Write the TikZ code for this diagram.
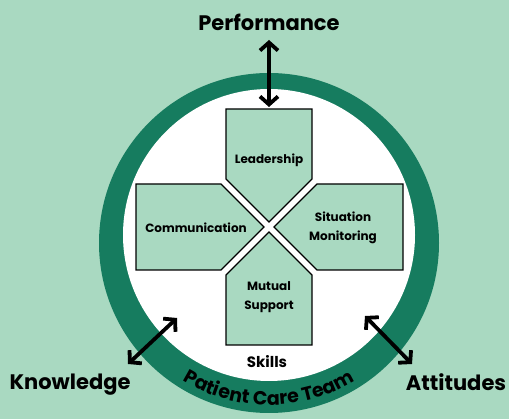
\documentclass[tikz,border=0pt]{standalone}
\usepackage{fontspec}
\setmainfont{Poppins}
\usepackage{tikz}
\usetikzlibrary{arrows.meta}
\usetikzlibrary{decorations.text}

\definecolor{mint}{HTML}{A9D9C1}
\definecolor{pine}{HTML}{167C5F}

\begin{document}
\begin{tikzpicture}[x=1pt,y=-1pt,
    box/.style={draw=black,fill=mint,line width=1.4pt},
    lbl/.style={font=\bfseries\fontsize{12}{19}\selectfont,align=center,inner sep=0},
    big/.style={font=\bfseries\fontsize{21}{24}\selectfont,inner sep=0,anchor=base},
    twoway/.style={{Straight Barb[length=8pt,width=18pt]}-{Straight Barb[length=8pt,width=18pt]},line width=3.8pt}]

    \useasboundingbox (0,0) rectangle (509,419);
    \fill[mint] (0,0) rectangle (509,419);
    \fill[pine] (269,243) circle[radius=170];
    \fill[white] (269,235) circle[radius=146];

    \draw[box] (226,109) -- (312,109) -- (312,179) -- (269,222) -- (226,179) -- cycle;
    \draw[box] (136,184) -- (221,184) -- (264,227) -- (221,270) -- (136,270) -- cycle;
    \draw[box] (403,184) -- (317,184) -- (274,227) -- (317,270) -- (403,270) -- cycle;
    \draw[box] (226,345) -- (312,345) -- (312,275) -- (269,232) -- (226,275) -- cycle;

    \node[lbl,anchor=base] (lead) at (269,164) {Leadership};
    \node[lbl,anchor=base] (comm) at (196,233) {Communication};
    \node[lbl] (sit) at (343,228) {Situation\\Monitoring};
    \node[lbl] (mut) at (269,297) {Mutual\\Support};
    \node[font=\bfseries\fontsize{15}{18}\selectfont,inner sep=0,anchor=base] (skills) at (267,368) {Skills};

    \node[big] (perf) at (269,31) {Performance};
    \node[big] (know) at (70,390) {Knowledge};
    \node[big] (att) at (456,391) {Attitudes};

    \path[decorate,decoration={text along path,text align=center,
        text={|\bfseries\fontsize{19}{19}\selectfont|Patient Care Team}}]
        (269,240) ++(145:165) arc[start angle=145,end angle=35,radius=165];

    \coordinate (p1) at (269,40);
    \coordinate (p2) at (269,107);
    \coordinate (k1) at (128,364);
    \coordinate (k2) at (177,318);
    \coordinate (a1) at (365,316);
    \coordinate (a2) at (412,364);

    \draw (p1) edge[twoway] (p2);
    \draw (k1) edge[twoway] (k2);
    \draw (a1) edge[twoway] (a2);
\end{tikzpicture}
\end{document}
